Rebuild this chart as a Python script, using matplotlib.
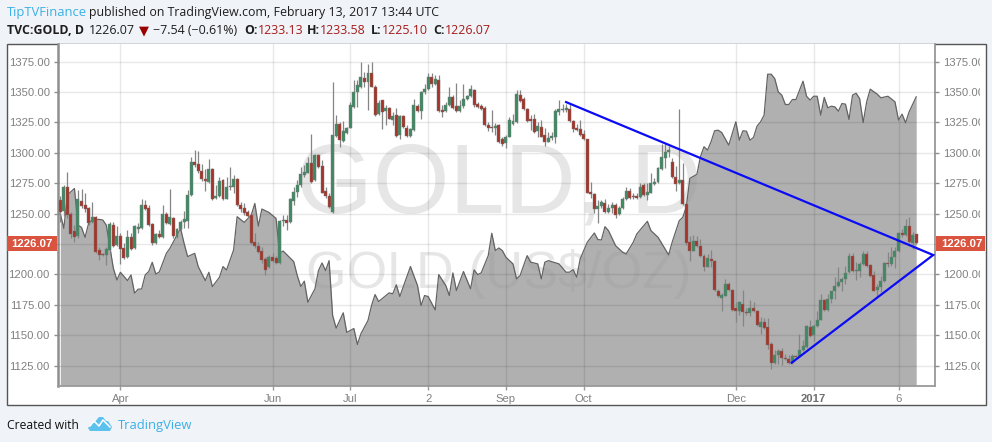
import matplotlib
matplotlib.use('Agg')
import matplotlib.pyplot as plt
from matplotlib.patches import Rectangle, Polygon
from matplotlib.lines import Line2D
from matplotlib.transforms import Bbox

opens = [
    1261.2,1252.4,1271.6,1249.7,1235.5,1231.6,1260.3,1257.1,1254.6,1242.8,
    1246.9,1219.9,1216.6,1216,1220.1,1240.4,1224.2,1231.4,1221.5,1214.4,
    1230.8,1222.1,1237.6,1238.5,1257.1,1254.6,1241.5,1225.6,1233.3,1231.1,
    1249.7,1241.7,1246.4,1230.8,1237.6,1243.4,1244.2,1265,1292.1,1290.7,
    1285,1278.4,1276.2,1287.1,1262.8,1264.4,1277.3,1262.3,1271.8,1272.1,
    1278.4,1257.1,1254.3,1251,1248.6,1226.4,1223.1,1219,1212.5,1205.9,
    1214.7,1213.6,1209.5,1243.7,1244.5,1243.1,1260.6,1268,
    1273.2,1281.7,1283.6,1291.3,1277.6,1298.1,1289.1,1268.9,1264.5,1251.1,
    1314,1323.3,1309.9,1316.5,1320.8,1337.8,1349.6,1353.9,1361.9,1357.8,
    1365.4,1354.5,1331.8,1343.3,1334.5,1336.7,1326.9,1331,1314.5,1329.9,
    1320.8,1314,1318.6,1338.3,1334.5,1349.6,1352.8,1362.7,1356.9,1359.7,
    1334.8,1334.5,1339.7,1346,1338.3,1334.5,1338.1,1344.4,1346.8,1351.7,
    1340.5,1338.3,1337.2,1323,1321.1,1320,1322.5,
    1311,1307.7,1313.2,1323.6,1325.5,1347.4,1344.1,1336.4,1327.7,1327.4,
    1318.1,1321.1,1314.5,1309.1,1311.8,1313.2,1333.7,1335,1335.6,1336.4,
    1325.8,1320.8,1319.2,1315.1,1311,1267.5,1266.1,1253.6,1256.3,1258.5,
    1251.6,1254.9,1257.1,1249.7,1254.4,1261.8,1268.9,1264.5,1264.8,1263.4,
    1273.2,1265.3,1267.2,1274.3,1276,1286.6,1295.9,1300.6,1292.1,1280.4,
    1274.9,1277.3,
    1257.7,1226.5,1219.6,1227.8,1223.7,1215.5,1206.5,1212.8,1211.4,1186.8,
    1180.5,1182.7,1192.3,1187.4,1172.6,1170.4,1175.9,1169.3,1168.2,1172.6,
    1170.1,1156.7,1161.1,1156.7,1142.5,1126.9,1134,1137.3,1131.6,1130.7,
    1127.2,1133.2,1133.2,1138.1,1140.3,1156.7,1149.9,1157.5,1162.7,1179.2,
    1171.2,1179.7,1186.3,1190.4,1193.6,1196.4,1201.9,1215.3,1202.7,1203.2,
    1208.7,1216.9,1207.9,1199.7,1187.4,1189.5,1194.5,1209.5,1208.7,1214.2,
    1219.1,1234.1,1232.8,1240.1,1225.9,1233.13,
]
closes = [
    1251.6,1272.1,1248.9,1233.3,1231.1,1261.7,1256.5,1253.8,1242,1246.9,
    1218.8,1216,1216,1220.7,1241.5,1223.4,1231.4,1221,1213.8,1230.8,
    1221.2,1239.8,1238.7,1257.1,1253.8,1240.6,1225.6,1233.3,1230.8,1249.7,
    1242.3,1247.2,1231.6,1237.1,1242.8,1245.3,1265.3,1292.1,1289.9,1285,
    1278.4,1277,1287.1,1262,1264.4,1276.8,1262,1271.8,1272.6,1278.4,
    1257.1,1253.5,1250.8,1248.3,1226.2,1223.7,1218.8,1211.9,1203.7,1214.7,
    1211.4,1209.5,1243.9,1244.8,1242.6,1262,1268,1273.5,
    1282.5,1284.5,1291.3,1276.3,1298.1,1288.6,1267.2,1264.5,1255.7,1314.5,
    1323.3,1310.4,1317.8,1320.8,1339.7,1349.6,1355.6,1362.7,1358.3,1365.4,
    1354.2,1331,1341.3,1333.7,1336.7,1328.2,1330.4,1314,1329.9,1321.4,
    1314,1319.2,1338.9,1334.2,1349.6,1352.3,1362.7,1356.9,1360.5,1334.2,
    1333.7,1339.7,1345.5,1337.2,1334.5,1338.1,1344.4,1346.8,1352.8,1339.2,
    1337.8,1336.2,1323,1320.6,1320,1321.9,1309.1,
    1307.2,1312.6,1326.9,1326,1348.7,1342.7,1336.2,1326.3,1326.3,1317.3,
    1321.9,1313.2,1309.1,1311.8,1313.7,1334.2,1335.9,1336.4,1336.7,1326.3,
    1319.5,1318.9,1314.5,1311,1267.2,1266.1,1253.6,1256.6,1259.3,1251.6,
    1254.4,1257.1,1248.9,1254.4,1262,1268.9,1262.6,1263.4,1263.1,1272.2,
    1265.6,1267.5,1274.9,1276.3,1287.2,1296.2,1300.3,1302.5,1280.4,1274.3,
    1277.3,1257.7,
    1225.6,1219.6,1227.8,1223.7,1215,1206.5,1213.3,1210.9,1187.1,1182.7,
    1183.3,1192.3,1187.4,1171.2,1170.4,1177,1168.8,1168.2,1172.6,1169.9,
    1158.1,1161.1,1155.9,1142,1126.9,1134,1137.3,1131.3,1130.2,1127.2,
    1133.2,1132.1,1138.1,1140.9,1157.3,1149.3,1157.8,1162.7,1179.2,1171.2,
    1180,1186.3,1190.4,1194.2,1196.4,1201.3,1215.3,1202.7,1203.8,1208.7,
    1216.9,1207.3,1199.1,1186.8,1190.1,1195,1209.5,1208.4,1214.7,1219.6,
    1234.1,1232.5,1240.1,1226.5,1232.5,1226.07,
]
highs = [
    1264.4,1273.5,1283.9,1251.6,1240.6,1269.4,1269.9,1266.6,1255.7,1259.8,
    1248,1222.9,1217.4,1222.9,1243.4,1243.4,1239.8,1233.8,1225.6,1236.5,
    1233.8,1240.6,1242,1261.7,1261.2,1257.1,1242,1234.4,1236.5,1257.1,
    1251.6,1269.9,1247.5,1237.9,1244.8,1252.4,1269.4,1296.2,1302.7,1301.6,
    1291.2,1287.1,1294.8,1287.7,1273.5,1279.8,1278.1,1280.3,1288,1281.7,
    1278.9,1259.8,1258.4,1253,1249.1,1233.8,1227,1222.9,1214.7,1216,
    1217.4,1215.2,1244.8,1248.9,1248.9,1262.5,1272.1,1277.6,
    1288.6,1289.9,1296.8,1315.4,1299,1299,1294,1272.2,1266.7,1358.3,
    1331,1325.5,1326.3,1321.4,1341.9,1359.7,1359.7,1374.4,1366.5,1372.8,
    1374.4,1355.6,1343.3,1343.8,1339.2,1337.8,1333.7,1337.2,1331,1331,
    1322.8,1320,1344.6,1340,1350.9,1356.9,1366,1365.7,1363.8,1363.8,
    1339.2,1341.9,1354.2,1347.4,1357.5,1343.3,1356.9,1347.4,1355.6,1352.8,
    1341.9,1340,1338.3,1325.5,1335,1324.7,1323.6,
    1313.2,1314.5,1329.6,1332.3,1352,1352,1346,1337.2,1331,1332.3,
    1325.5,1326.9,1320,1317.3,1317.3,1336.4,1343.3,1340.5,1340.5,1340.5,
    1326.9,1323.6,1326.9,1318.6,1311.5,1276.3,1267.2,1261.2,1261.2,1261.8,
    1257.9,1259.8,1258.5,1256.3,1263.9,1272.2,1270.8,1266.7,1266.7,1275.4,
    1275.4,1274.9,1283.6,1279,1288.6,1307.2,1307.2,1305.8,1295.4,1289.1,
    1336.4,1291.3,
    1258.2,1231.9,1232.5,1231.9,1229.2,1216.9,1216.9,1220.5,1212,1188.2,
    1184.6,1196.4,1194.2,1188.2,1177.2,1178.1,1187.6,1172.6,1179.2,1177.2,
    1171,1164.9,1164.4,1164.4,1144.4,1137.6,1138.9,1139.5,1134.8,1133.5,
    1134.3,1134,1150.7,1145.8,1158.1,1162.7,1158.9,1170.4,1184.1,1180,
    1184.1,1186.8,1197.8,1206,1197.8,1207.3,1217.4,1217.4,1210.1,1210.1,
    1219.1,1219.1,1208.7,1203.2,1192.3,1199.1,1210.1,1218.3,1222.4,1222.4,
    1234.7,1237.4,1245.6,1247,1234.7,1233.58,
]
lows = [
    1243.4,1248,1246.1,1229.7,1227,1229.7,1254.3,1251.6,1240.6,1242,
    1218,1211.9,1215.5,1207.8,1218.8,1222.3,1223.4,1208.7,1213,1213.6,
    1220.1,1221.2,1233.8,1237.6,1253,1239.8,1224.2,1224.8,1230,1230.3,
    1241.5,1240.9,1229.7,1230,1236.5,1237.9,1237.9,1264.4,1288.5,1283.6,
    1277,1268.8,1275.4,1261.2,1262.3,1263.9,1261.2,1261.7,1269.4,1266.6,
    1256.2,1251.6,1248.9,1246.9,1225.1,1221.5,1217.4,1209.2,1199.6,1205.1,
    1210.6,1208.7,1208.7,1239.8,1236.5,1242,1257.1,1263.9,
    1272.2,1280.4,1283.1,1275.4,1276.8,1287.7,1266.7,1262.6,1254.4,1250.3,
    1313.2,1305,1309.1,1315.4,1320,1337.2,1337.8,1353.4,1354.2,1335,
    1353.7,1330.1,1331,1319.2,1322.8,1327.4,1322.8,1312.6,1311,1320.8,
    1313.2,1313.2,1318.1,1333.4,1328.2,1348.7,1352,1353.7,1355.6,1333.4,
    1329.6,1333.7,1338.3,1336.4,1333.7,1333.7,1337.2,1343.3,1345.5,1337.8,
    1337.2,1335,1322.2,1318.1,1317.3,1314.5,1308.3,
    1305.8,1303.6,1312.6,1322.8,1324.9,1341.9,1335.6,1325.5,1318.6,1315.9,
    1313.2,1312.6,1305.8,1308.5,1310.4,1307.7,1331,1333.7,1333.7,1325.5,
    1317.3,1318.1,1313.7,1310.4,1266.7,1262.6,1250.3,1242.1,1254.4,1250.3,
    1250.8,1250.3,1246.2,1248.9,1253.6,1261.2,1261.8,1261.8,1262.3,1262.6,
    1264.8,1261.2,1266.7,1273.5,1275.4,1285.8,1287.2,1296.8,1279.5,1268.9,
    1274.3,1257.1,
    1224.5,1211.4,1219.1,1222.9,1214.2,1202.7,1206,1206,1186.3,1181.3,
    1170.4,1182.2,1186.3,1170.4,1160.8,1166.3,1157.3,1167.1,1165.5,1169,
    1157.3,1150.7,1155.1,1138.7,1122.5,1126.1,1126.1,1125.3,1129.4,1126.1,
    1126.6,1131.6,1132.7,1137,1139.8,1148.5,1145.2,1156.7,1162.2,1170.4,
    1170.4,1176.4,1180,1189.5,1186.8,1192.3,1201.3,1201.9,1195.6,1197.8,
    1207.9,1206.5,1198.3,1186.3,1181.3,1185.4,1193.6,1206,1207.3,1205.4,
    1218.5,1231.1,1231.9,1225.6,1221,1225.1,
]

mountain_idx = [
    0,1,2,3,4,5,6,7,8,9,11,12,13,15,16,17,19,20,21,22,23,24,25,26,27,28,30,31,32,34,
    35,36,38,39,41,42,43,45,46,47,49,50,52,54,55,56,57,59,61,62,63,66,67,68,69,70,72,73,74,75,
    76,77,78,80,81,83,84,85,87,88,89,90,93,94,95,96,99,101,102,103,104,106,107,109,110,111,112,114,116,117,
    118,119,121,122,123,124,125,126,128,129,130,132,133,135,136,137,138,141,143,144,145,146,147,149,151,152,153,154,155,157,
    159,160,162,163,166,167,169,172,173,175,176,177,178,180,181,182,183,184,185,186,187,189,191,192,193,194,195,196,197,198,
    199,200,201,202,203,204,205,206,207,208,210,211,212,213,214,215,216,217,218,219,220,221,222,223,224,225,226,227,228,229,
    231,232,234,236,237,238,239,240,242,
]
mountain_val = [
    1250,1237.9,1265.3,1268,1270.7,1240.6,1238.7,1230.5,1242,1244.8,1245.3,1244.8,1240.6,1205.1,1195.5,1201.8,1195,1199.6,1184.6,1187.9,
    1188.1,1199.6,1202.4,1210,1200.4,1202.1,1217.4,1221.5,1227,1237.9,
    1225.6,1214.7,1217.4,1206.5,1195,1201.8,1190,1197.7,1206.5,1203.7,1220.1,1247.5,1242.8,1248.9,1258.4,1239.8,1253.8,1251,1246.1,1217.4,
    1219.3,1210.6,1199.1,1190.1,1194.5,1177.2,1188.2,1203.2,1209.5,1203.2,
    1211.4,1166.3,1155.9,1168.5,1152.4,1155.6,1142.5,1151.3,1162.2,1174.5,1183.5,1177.8,1184.9,1184.1,1191.5,1181.9,1206.5,1190.9,1174.5,1182.7,
    1181.9,1170.9,1199.9,1190.9,1182.7,1201.3,1186.8,1202.4,1188.2,1203.8,
    1199.9,1201.3,1215.5,1233.9,1219.6,1221.8,1219.6,1214.2,1208.7,1196.4,1199.1,1215.5,1210.1,1208.7,1196.4,1210.1,1211.4,1208.7,1201.9,1201.9,
    1204,1197.8,1212.8,1226.5,1234.1,1228.7,1228.4,1239.3,1236,1223.7,
    1218.3,1216.9,1226.5,1233.3,1243.7,1236,1230.6,1216.1,1226.5,1244.2,1247,1255.7,1279,1282.3,1296.8,1305,1302.2,1309.1,1318.1,1318.6,
    1316.7,1306.3,1325.5,1310.4,1318.1,1317.8,1310.4,1312.6,1321.9,1325.5,
    1331,1364.6,1364.6,1361,1350.1,1347.4,1339.7,1339.7,1343.8,1343.8,1358.9,1346.5,1343.3,1346.5,1346.5,1331,1345.5,1337,1338.3,1337.8,
    1334.2,1340.5,1340,1327.4,1347.4,1349,1344.6,1324.9,1341.9,1352.3,
    1348.2,1345.2,1346.5,1341.9,1326.9,1331.8,1324.7,1333.7,1346,
]

# trend lines, upper end, apex, lower end
trend_idx = [143, 246.8, 206.8]
trend_val = [1341.7, 1216, 1127.5]

price_ticks = [1125, 1150, 1175, 1200, 1225, 1250, 1275, 1300, 1325, 1350, 1375]
time_ticks = [17, 60, 82, 104, 126, 148, 191, 213, 237]
time_labels = ['Apr', 'Jun', 'Jul', '2', 'Sep', 'Oct', 'Dec', '2017', '6']
last_price = '1226.07'

W, H = 992, 442
BG = '#f0f3f7'
UP = '#3f8a63'
DOWN = '#a5352a'
TEXT = 'Open Sans'
LINK = '#3bb0e6'


def fx(x):
    return x / W


def fy(y):
    return 1 - y / H


fig = plt.figure(figsize=(W / 100, H / 100), dpi=100, facecolor=BG)
plt.rcParams['font.family'] = ['Liberation Sans', 'DejaVu Sans']

fig.add_artist(Rectangle((fx(6.5), fy(405)), (985.5 - 6.5) / W, (405 - 43.5) / H,
                         transform=fig.transFigure, facecolor='white',
                         edgecolor='#555555', lw=1, zorder=-1))

ax = fig.add_axes([fx(57.5), fy(385.7), (935.3 - 57.5) / W, (385.7 - 43.8) / H])
ax.set_xlim(-0.79, 247.4)
ax.set_ylim(1108.6, 1389.6)

# grid sits over the mountain, it shows darker there
ax.set_axisbelow(False)
ax.grid(color='black', alpha=0.09, lw=1)

wm = dict(ha='center', va='center', color='#e6e6e6', family='Liberation Sans')
ax.text(124, 1272, 'GOLD, D', fontsize=71, zorder=1, **wm)
ax.text(124, 1200, 'GOLD (US$/OZ)', fontsize=37.5, zorder=1, **wm)

ax.fill_between(mountain_idx, mountain_val, 1108.6, color='#979797', alpha=0.76, lw=0, zorder=2)
ax.plot(mountain_idx, mountain_val, color='#636363', lw=0.9, zorder=3)

for i in range(len(opens)):
    up = closes[i] >= opens[i]
    ax.vlines(i, lows[i], highs[i], color='#858585', lw=0.9, zorder=4)
    bottom = min(opens[i], closes[i])
    ax.bar(i, max(abs(closes[i] - opens[i]), 1.0), bottom=bottom, width=0.84,
           color=UP if up else DOWN, edgecolor='#777777', lw=0.3, zorder=5)

ax.plot(trend_idx, trend_val, color='#0b0bf5', lw=1.6, zorder=6, solid_joinstyle='miter', clip_on=False)

ax.spines['top'].set_visible(False)
ax.spines['left'].set_color('#8f8f8f')
ax.spines['left'].set_linewidth(1.8)
ax.spines['bottom'].set_color('#9a9a9a')
ax.spines['bottom'].set_linewidth(1.3)
ax.spines['right'].set_color('#8f8f8f')
ax.spines['right'].set_linewidth(1.2)

ax.set_yticks(price_ticks)
ax.set_yticklabels(['' if p == 1225 else '%.2f' % p for p in price_ticks])
ax.tick_params(axis='y', left=True, right=True, labelleft=True, labelright=True,
               length=3, width=1, color='#8f8f8f', labelcolor='#808080', labelsize=8.1, pad=2.5)
ax.set_xticks(time_ticks)
ax.set_xticklabels(time_labels)
ax.tick_params(axis='x', length=3, width=1, color='#9a9a9a', labelcolor='#808080', labelsize=8.1, pad=3)
for lab in ax.get_xticklabels():
    if lab.get_text() == '2017':
        lab.set_fontweight('bold')
        lab.set_color('#6e6e6e')

# axis labels are cut off in the original
left_clip = Bbox([[0, 0], [50, H]])
right_clip = Bbox([[938, 0], [980, H]])
for tick in ax.yaxis.get_major_ticks():
    tick.label1.set_clip_box(left_clip)
    tick.label1.set_clip_on(True)
    tick.label2.set_clip_box(right_clip)
    tick.label2.set_clip_on(True)

# last price tags
for x0, x1, cx in [(6.8, 57, 32), (936, 985.2, 961.5)]:
    fig.add_artist(Rectangle((fx(x0), fy(251)), (x1 - x0) / W, 15.3 / H, transform=fig.transFigure,
                             facecolor='#d9533f', edgecolor='none', zorder=5))
    fig.text(fx(cx), fy(243.5), last_price, color='white', fontsize=8.2, fontweight='bold',
             ha='center', va='center', zorder=6)


def header(x, y, s, color='#1e1e1e', weight='normal', size=8.9, family=TEXT):
    fig.text(fx(x), fy(y), s, color=color, fontsize=size, fontweight=weight,
             family=family, ha='left', va='baseline')


header(7, 16, 'TipTVFinance', color=LINK, size=9.4)
header(89, 16, 'published on TradingView.com, February 13, 2017 13:44 UTC')
header(7, 34, 'TVC:GOLD, D', weight='bold', size=8.9)
header(89, 34, '1226.07')
header(139, 34, '\u25bc', color='#990000', size=9.4, family='DejaVu Sans')
header(153, 34, '\u22127.54 (\u22120.61%)')
header(244, 34, 'O:', weight='bold')
header(258, 34, '1233.13', color='#a61c1c')
header(307, 34, 'H:', weight='bold')
header(320, 34, '1233.58', color='#a61c1c')
header(371, 34, 'L:', weight='bold')
header(382, 34, '1225.10', color='#a61c1c')
header(433, 34, 'C:', weight='bold')
header(445, 34, '1226.07', color='#a61c1c')

header(7, 429, 'Created with', color='#111111', size=8.7)
header(118, 429, 'TradingView', color=LINK, size=9.4)

# logo
cloud = [(88, 428), (92, 423), (94, 423), (99, 417), (103, 417), (106, 421), (108, 421), (112, 427), (110, 431), (90, 431)]
fig.add_artist(Polygon([(fx(a), fy(b)) for a, b in cloud], transform=fig.transFigure,
                       facecolor='#5cc1ec', edgecolor='none', zorder=5))
zig = [(90, 426), (94, 421), (99, 426), (103, 420), (110, 427)]
fig.add_artist(Line2D([fx(a) for a, b in zig], [fy(b) for a, b in zig], transform=fig.transFigure,
                      color='white', lw=1.1, zorder=6))

fig.savefig('out.png', dpi=100, facecolor=BG)
plt.close(fig)
